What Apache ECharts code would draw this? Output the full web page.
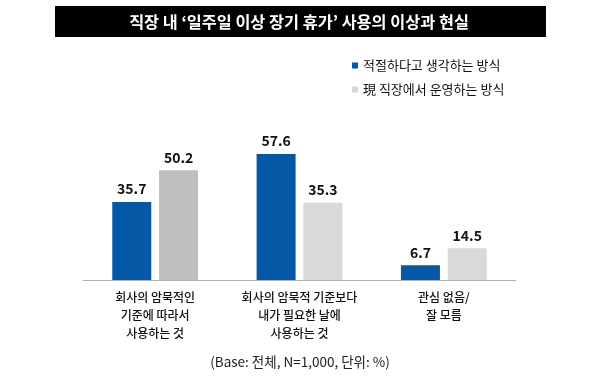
<!DOCTYPE html>
<html><head><meta charset="utf-8">
<script src="https://cdn.jsdelivr.net/npm/echarts@6/dist/echarts.min.js"></script>
<style>html,body{margin:0;padding:0;background:#fff}#c{width:600px;height:385px}</style>
</head><body><div id="c"></div>
<script>
const title = '직장 내 ‘일주일 이상 장기 휴가’ 사용의 이상과 현실';
const categories = ['회사의 암묵적인\n기준에 따라서\n사용하는 것', '회사의 암묵적 기준보다\n내가 필요한 날에\n사용하는 것', '관심 없음/\n잘 모름'];
const seriesNames = ['적절하다고 생각하는 방식', '現 직장에서 운영하는 방식'];
const idealValues = [35.7, 57.6, 6.7];
const currentValues = [50.2, 35.3, 14.5];
const note = '(Base: 전체, N=1,000, 단위: %)';
const FONT = '"Noto Sans CJK KR", "Noto Sans", sans-serif';
const chart = echarts.init(document.getElementById('c'));
chart.setOption({
  animation: false,
  textStyle: { fontFamily: FONT },
  graphic: [
    { type: 'rect', shape: { x: 55, y: 6, width: 491, height: 31 }, style: { fill: '#000' } },
    { type: 'text', x: 299, y: 22, style: { text: title, fill: '#fff', font: 'bold 16.3px ' + FONT, align: 'center', verticalAlign: 'middle' } },
    { type: 'text', x: 300, y: 362, style: { text: note, fill: '#222', font: '13.5px ' + FONT, align: 'center', verticalAlign: 'middle' } }
  ],
  legend: {
    orient: 'vertical', left: 347, top: 54, itemWidth: 6, itemHeight: 6, itemGap: 11,
    icon: 'rect',
    textStyle: { fontFamily: FONT, fontSize: 13, color: '#111' },
    data: seriesNames
  },
  grid: { left: 83, right: 84, top: 127, bottom: 105 },
  xAxis: {
    type: 'category', data: categories,
    axisLine: { lineStyle: { color: '#b0b0b0', width: 1 } },
    axisTick: { show: false },
    axisLabel: { color: '#111', fontSize: 12, fontWeight: 500, lineHeight: 18, margin: 8, fontFamily: FONT, interval: 0 }
  },
  yAxis: { type: 'value', min: 0, max: 70, show: false, splitLine: { show: false } },
  series: [
    {
      name: seriesNames[0], type: 'bar', data: idealValues, barWidth: 39, barGap: '20%',
      itemStyle: { color: '#0558a6' },
      label: { show: true, position: 'top', distance: 6, color: '#111', fontSize: 14, fontWeight: 'bold', fontFamily: FONT, formatter: p => p.value.toFixed(1) }
    },
    {
      name: seriesNames[1], type: 'bar', barWidth: 39,
      data: currentValues.map((v, i) => i === 0 ? { value: v, itemStyle: { color: '#bfbfbf' } } : v),
      itemStyle: { color: '#d9d9d9' },
      label: { show: true, position: 'top', distance: 6, color: '#111', fontSize: 14, fontWeight: 'bold', fontFamily: FONT, formatter: p => p.value.toFixed(1) }
    }
  ]
});
</script></body></html>
